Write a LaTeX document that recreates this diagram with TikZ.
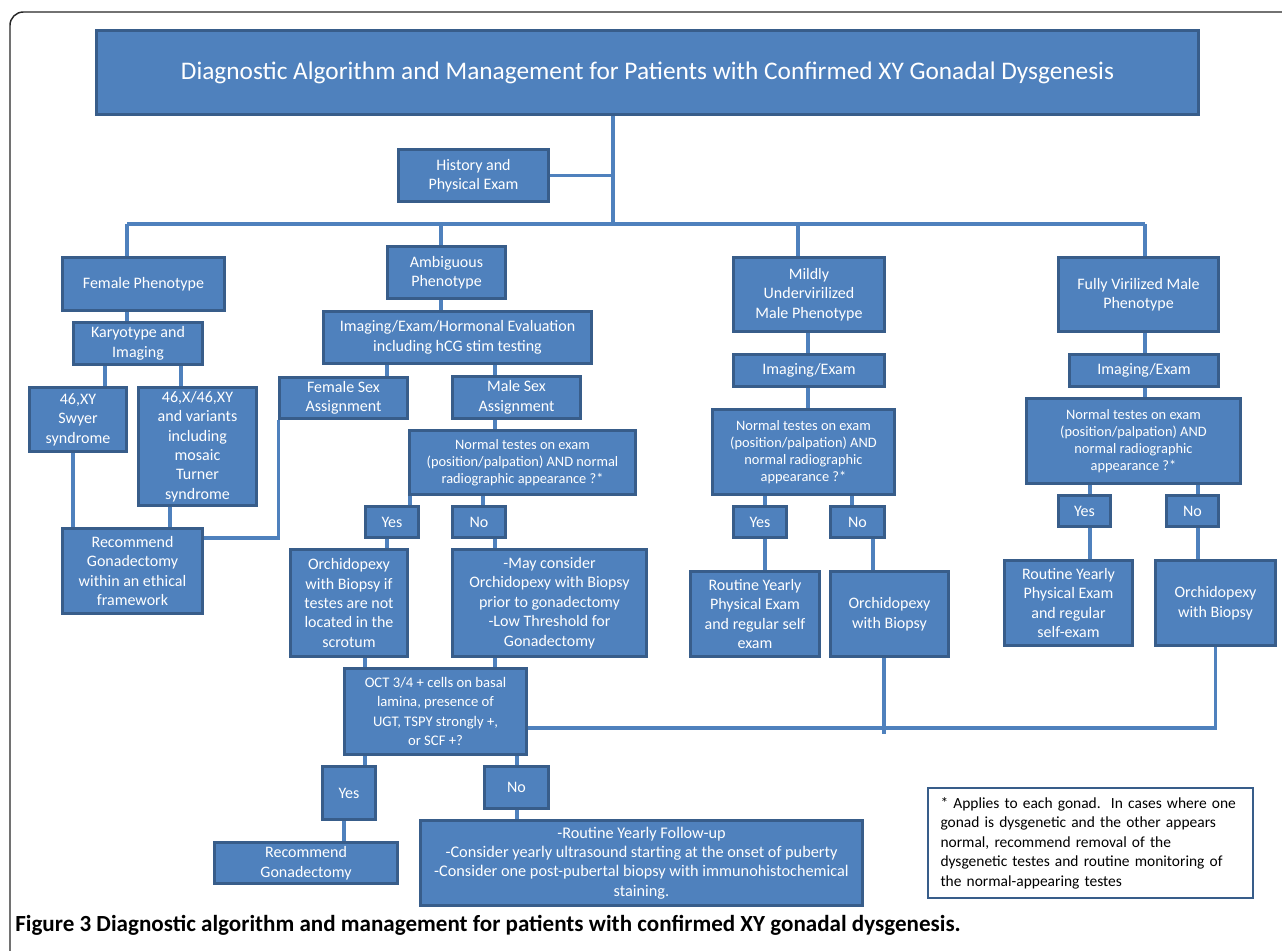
\documentclass[tikz,border=0pt]{standalone}
\usepackage{fontspec}
\setmainfont{Carlito}
\usetikzlibrary{backgrounds}

\definecolor{boxfill}{HTML}{4F81BD}
\definecolor{boxedge}{HTML}{385D8A}

\tikzset{
  box/.style={draw=boxedge, fill=boxfill, line width=2.2pt, text=white,
    align=center, inner sep=1pt, font=\fontsize{12}{14.6}\selectfont},
  smalltext/.style={font=\fontsize{10.8}{12.9}\selectfont},
  tighttext/.style={font=\fontsize{11}{14.6}\selectfont},
  sz/.style 2 args={minimum width=#1*0.75pt, minimum height=#2*0.75pt},
  conn/.style={draw=boxfill, line width=2.3pt},
}

\begin{document}
\begin{tikzpicture}[x=0.75pt, y=-0.75pt]
\path[use as bounding box, clip] (0,0) rectangle (1282,950);
\draw[line width=1.1pt, black!85, rounded corners=10pt] (10,12) rectangle (1310,975);

% top of the tree
\node[box, sz={1102}{84}, font=\fontsize{19}{22}\selectfont] (title) at (647.5,72.5)
  {Diagnostic Algorithm and Management for Patients with Confirmed XY Gonadal Dysgenesis};
\node[box, sz={150}{52}] (hist) at (473.5,175.5) {History and\\Physical Exam};
\coordinate (barL) at (127,224);
\coordinate (barR) at (1145,224);

% phenotypes
\node[box, sz={162}{53}] (femph) at (143.5,284) {Female Phenotype};
\node[box, sz={118}{52}] (ambph) at (446.5,272.5) {Ambiguous\\Phenotype};
\node[box, sz={151}{74}] (mildph) at (809,294.5) {Mildly\\Undervirilized\\Male Phenotype};
\node[box, sz={160}{74}] (fullph) at (1138.5,294.5) {Fully Virilized Male\\Phenotype};

% female branch
\node[box, sz={129}{42}] (kary) at (138,343.5) {Karyotype and\\Imaging};
\node[box, sz={97}{64}] (swyer) at (78,419.5) {46,XY\\Swyer\\syndrome};
\node[box, sz={118}{118}] (turner) at (197.5,446.5)
  {46,X/46,XY\\and variants\\including\\mosaic\\Turner\\syndrome};
\node[box, sz={140}{85}] (recgon) at (132.5,571)
  {Recommend\\Gonadectomy\\within an ethical\\framework};

% ambiguous branch
\node[box, sz={268}{52}] (imghorm) at (457.5,337.5)
  {Imaging/Exam/Hormonal Evaluation\\including hCG stim testing};
\node[box, sz={128}{41}] (femsex) at (343.5,398) {Female Sex\\Assignment};
\node[box, sz={128}{42}] (malesex) at (516.5,397.5) {Male Sex\\Assignment};
\node[box, smalltext, sz={226}{64}] (normA) at (522.5,462.5)
  {Normal testes on exam\\(position/palpation) AND normal\\radiographic appearance ?*};
\node[box, sz={53}{31}] (yesA) at (392,522) {Yes};
\node[box, sz={53}{31}] (noA) at (479,522) {No};
\node[box, sz={117}{107}] (orchA) at (349,603)
  {Orchidopexy\\with Biopsy if\\testes are not\\located in the\\scrotum};
\node[box, sz={194}{107}] (mayA) at (549.5,603)
  {-May consider\\Orchidopexy with Biopsy\\prior to gonadectomy\\-Low Threshold for\\Gonadectomy};
\node[box, tighttext, sz={182}{86}] (oct) at (435.5,711.5)
  {OCT 3/4 + cells on basal\\lamina, presence of\\UGT, TSPY strongly +,\\or SCF +?};
\node[box, sz={53}{53}] (yesB) at (349,793) {Yes};
\node[box, sz={64}{42}] (noB) at (516.5,787.5) {No};
\node[box, sz={183}{41}] (recB) at (306,863) {Recommend\\Gonadectomy};
\node[box, sz={442}{85}, font=\fontsize{12.2}{14.6}\selectfont] (follow) at (641.5,863)
  {-Routine Yearly Follow-up\\-Consider yearly ultrasound starting at the onset of puberty\\-Consider one post-pubertal biopsy with immunohistochemical\\staining.};

% mildly undervirilized branch
\node[box, sz={151}{32}] (imgM) at (809,370.5) {Imaging/Exam};
\node[box, smalltext, sz={182}{85}] (normM) at (803.5,452)
  {Normal testes on exam\\(position/palpation) AND\\normal radiographic\\appearance ?*};
\node[box, sz={53}{31}] (yesM) at (760,522) {Yes};
\node[box, sz={54}{31}] (noM) at (857.5,522) {No};
\node[box, sz={129}{85}] (routM) at (755,614)
  {Routine Yearly\\Physical Exam\\and regular self\\exam};
\node[box, sz={118}{85}] (orchM) at (889.5,614) {Orchidopexy\\with Biopsy};
\coordinate (mjoin) at (884,734);

% fully virilized branch
\node[box, sz={149}{32}] (imgF) at (1144,370.5) {Imaging/Exam};
\node[box, smalltext, sz={214}{85}] (normF) at (1133.5,441)
  {Normal testes on exam\\(position/palpation) AND\\normal radiographic\\appearance ?*};
\node[box, sz={52}{31}] (yesF) at (1084.5,511) {Yes};
\node[box, sz={52}{31}] (noF) at (1192.5,511) {No};
\node[box, sz={128}{85}] (routF) at (1068.5,603)
  {Routine Yearly\\Physical Exam\\and regular\\self-exam};
\node[box, sz={120}{85}] (orchF) at (1215.5,603) {Orchidopexy\\with Biopsy};

% footnote and caption
\node[draw=boxedge, line width=0.9pt, sz={325}{110}, align=left, text width=300*0.75pt,
  font=\fontsize{11.6}{14.6}\selectfont] (note) at (1090.5,843)
  {* Applies to each gonad.\ \ In cases where one\\gonad is dysgenetic and the other appears\\normal, recommend removal of the\\dysgenetic testes and routine monitoring of\\the normal-appearing testes};
\node[anchor=west, inner sep=0pt, font=\fontsize{17.3}{20}\selectfont] (caption) at (15,925)
  {\textbf{Figure 3 Diagnostic algorithm and management for patients with confirmed XY gonadal dysgenesis.}};

\begin{scope}[on background layer]
\draw[conn] (title.south -| 613,0) -- (barL -| 613,0);
\draw[conn] (hist.east) -- (hist.east -| 613,0);
\draw[conn] (barL) -- (barR);
\draw[conn] (barL) -- (femph.north -| barL);
\draw[conn] (barL -| 441,0) -- (ambph.north -| 441,0);
\draw[conn] (barL -| 798,0) -- (mildph.north -| 798,0);
\draw[conn] (barR) -- (fullph.north -| barR);
% female
\draw[conn] (femph.south -| barL) -- (kary.north -| barL);
\draw[conn] (kary.south -| 105,0) -- (swyer.north -| 105,0);
\draw[conn] (kary.south -| 181,0) -- (turner.north -| 181,0);
\draw[conn] (swyer.south -| 73,0) -- (recgon.north -| 73,0);
\draw[conn] (turner.south -| 170,0) -- (recgon.north -| 170,0);
\draw[conn] (recgon.east |- 0,538) -| (femsex.south west);
% ambiguous
\draw[conn] (ambph.south -| 441,0) -- (imghorm.north -| 441,0);
\draw[conn] (imghorm.south -| 387,0) -- (femsex.north -| 387,0);
\draw[conn] (imghorm.south -| 495,0) -- (malesex.north -| 495,0);
\draw[conn] (malesex.south -| 495,0) -- (normA.north -| 495,0);
\draw[conn] (normA.south -| 410,0) -- (yesA.north -| 410,0);
\draw[conn] (normA.south -| 483,0) -- (noA.north -| 483,0);
\draw[conn] (yesA.south -| 387,0) -- (orchA.north -| 387,0);
\draw[conn] (noA.south -| 495,0) -- (mayA.north -| 495,0);
\draw[conn] (orchA.south -| 365,0) -- (oct.north -| 365,0);
\draw[conn] (mayA.south -| 495,0) -- (oct.north -| 495,0);
\draw[conn] (oct.south -| 365,0) -- (yesB.north -| 365,0);
\draw[conn] (oct.south -| 517,0) -- (noB.north -| 517,0);
\draw[conn] (yesB.south -| 344,0) -- (recB.north -| 344,0);
\draw[conn] (noB.south -| 517,0) -- (follow.north -| 517,0);
\draw[conn] (oct.east |- 0,728) -| (orchF.south);
% mildly
\draw[conn] (mildph.south -| 808,0) -- (imgM.north -| 808,0);
\draw[conn] (imgM.south -| 808,0) -- (normM.north -| 808,0);
\draw[conn] (normM.south -| 765,0) -- (yesM.north -| 765,0);
\draw[conn] (normM.south -| 852,0) -- (noM.north -| 852,0);
\draw[conn] (yesM.south -| 765,0) -- (routM.north -| 765,0);
\draw[conn] (noM.south -| 873,0) -- (orchM.north -| 873,0);
\draw[conn] (orchM.south -| mjoin) -- (mjoin);
% fully
\draw[conn] (fullph.south -| barR) -- (imgF.north -| barR);
\draw[conn] (imgF.south -| barR) -- (normF.north -| barR);
\draw[conn] (normF.south -| 1090,0) -- (yesF.north -| 1090,0);
\draw[conn] (normF.south -| 1198,0) -- (noF.north -| 1198,0);
\draw[conn] (yesF.south -| 1090,0) -- (routF.north -| 1090,0);
\draw[conn] (noF.south -| 1198,0) -- (orchF.north -| 1198,0);
\end{scope}
\end{tikzpicture}
\end{document}
